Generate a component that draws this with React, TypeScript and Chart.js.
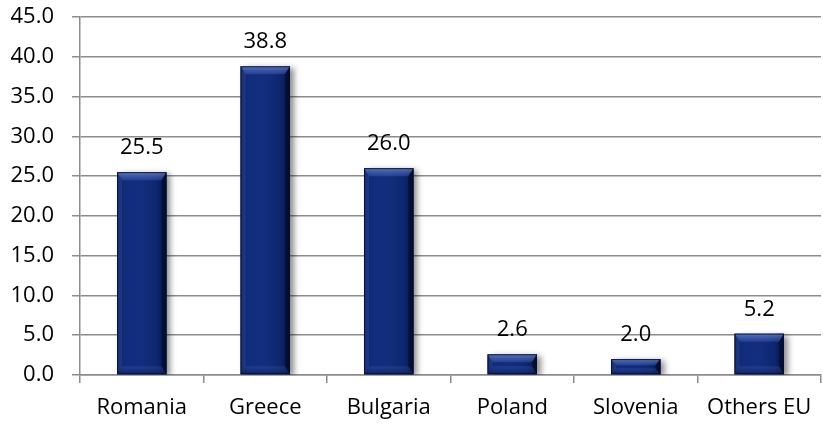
import React, { useEffect, useRef } from "react";
import { Chart, registerables } from "chart.js";

Chart.register(...registerables);

const categories = ["Romania", "Greece", "Bulgaria", "Poland", "Slovenia", "Others EU"];
const values = [25.5, 38.8, 26.0, 2.6, 2.0, 5.2];
const yMin = 0;
const yMax = 45;
const yStep = 5;

const FONT = "'Open Sans', sans-serif";
const FONT_SIZE = 22;

const bevelPlugin = {
  id: "bevelBars",
  beforeDatasetsDraw(chart: any) {
    const ctx = chart.ctx;
    ctx.save();
    ctx.shadowColor = "rgba(0,0,0,0.45)";
    ctx.shadowOffsetX = 4;
    ctx.shadowOffsetY = 2;
    ctx.shadowBlur = 6;
  },
  afterDatasetsDraw(chart: any) {
    const ctx = chart.ctx;
    ctx.restore();
    const meta = chart.getDatasetMeta(0);
    const data = chart.data.datasets[0].data as number[];
    meta.data.forEach((el: any, i: number) => {
      const { x, y, base, width } = el.getProps(["x", "y", "base", "width"], true);
      const L = x - width / 2;
      const R = x + width / 2;
      const T = Math.min(y, base);
      const B = Math.max(y, base);
      const h = B - T;
      const b = Math.min(8, h / 2.5);
      const s = Math.min(5, width / 6);
      ctx.save();
      const fg = ctx.createLinearGradient(L, 0, R, 0);
      fg.addColorStop(0, "rgba(5,18,60,0.55)");
      fg.addColorStop(0.2, "rgba(30,60,150,0.15)");
      fg.addColorStop(0.5, "rgba(40,70,160,0.12)");
      fg.addColorStop(0.8, "rgba(5,18,60,0.15)");
      fg.addColorStop(1, "rgba(0,5,30,0.7)");
      ctx.fillStyle = fg;
      ctx.fillRect(L, T, width, h);
      const tg = ctx.createLinearGradient(0, T, 0, T + b);
      tg.addColorStop(0, "rgba(140,170,235,0.6)");
      tg.addColorStop(1, "rgba(70,100,190,0.35)");
      ctx.fillStyle = tg;
      ctx.beginPath();
      ctx.moveTo(L, T);
      ctx.lineTo(R, T);
      ctx.lineTo(R - s, T + b);
      ctx.lineTo(L + s, T + b);
      ctx.closePath();
      ctx.fill();
      const bg = ctx.createLinearGradient(0, B - b, 0, B);
      bg.addColorStop(0, "rgba(60,90,170,0.3)");
      bg.addColorStop(1, "rgba(10,25,80,0.5)");
      ctx.fillStyle = bg;
      ctx.beginPath();
      ctx.moveTo(L, B);
      ctx.lineTo(R, B);
      ctx.lineTo(R - s, B - b);
      ctx.lineTo(L + s, B - b);
      ctx.closePath();
      ctx.fill();
      ctx.fillStyle = "rgba(80,110,200,0.22)";
      ctx.beginPath();
      ctx.moveTo(L, T);
      ctx.lineTo(L + s, T + b);
      ctx.lineTo(L + s, B - b);
      ctx.lineTo(L, B);
      ctx.closePath();
      ctx.fill();
      ctx.fillStyle = "rgba(0,5,25,0.45)";
      ctx.beginPath();
      ctx.moveTo(R, T);
      ctx.lineTo(R - s, T + b);
      ctx.lineTo(R - s, B - b);
      ctx.lineTo(R, B);
      ctx.closePath();
      ctx.fill();
      ctx.strokeStyle = "rgba(5,15,50,0.9)";
      ctx.lineWidth = 1;
      ctx.strokeRect(L + 0.5, T + 0.5, width - 1, h - 1);
      ctx.fillStyle = "#000";
      ctx.font = `${FONT_SIZE}px ${FONT}`;
      ctx.textAlign = "center";
      ctx.textBaseline = "alphabetic";
      ctx.fillText(data[i].toFixed(1), x, T - 18);
      ctx.restore();
    });
  },
};

export default function App() {
  const canvasRef = useRef<HTMLCanvasElement | null>(null);

  useEffect(() => {
    document.body.style.margin = "0";
    const canvas = canvasRef.current;
    if (!canvas) return;
    const chart = new Chart(canvas, {
      type: "bar",
      data: {
        labels: categories,
        datasets: [
          {
            data: values,
            backgroundColor: "#0F2A78",
            borderWidth: 0,
            categoryPercentage: 1,
            barPercentage: 0.4,
          },
        ],
      },
      options: {
        animation: false,
        responsive: false,
        maintainAspectRatio: false,
        layout: { padding: { top: 17, right: 2, left: 0, bottom: 0 } },
        plugins: {
          legend: { display: false },
          tooltip: { enabled: false },
        },
        scales: {
          x: {
            afterFit(scale: any) {
              scale.height = 49;
              scale.paddingLeft = 0;
              scale.paddingRight = 0;
            },
            grid: {
              display: true,
              drawOnChartArea: false,
              drawTicks: true,
              tickLength: 8,
              offset: true,
              color: "#8c8c8c",
              lineWidth: 1.5,
            },
            border: { display: true, color: "#8c8c8c", width: 1.5 },
            ticks: {
              color: "#000",
              font: { family: FONT, size: FONT_SIZE },
              padding: 12,
              maxRotation: 0,
              autoSkip: false,
            },
          },
          y: {
            min: yMin,
            max: yMax,
            afterFit(scale: any) {
              scale.width = 80;
              scale.paddingTop = 0;
              scale.paddingBottom = 0;
            },
            grid: {
              color: "#8c8c8c",
              lineWidth: 1.5,
              tickLength: 8,
            },
            border: { display: true, color: "#8c8c8c", width: 1.5 },
            ticks: {
              stepSize: yStep,
              color: "#000",
              font: { family: FONT, size: FONT_SIZE },
              padding: 18,
              callback: (v: any) => Number(v).toFixed(1),
            },
          },
        },
      },
      plugins: [bevelPlugin],
    });
    return () => chart.destroy();
  }, []);

  return (
    <div style={{ position: "absolute", left: 0, top: 0, width: 823, height: 424 }}>
      <canvas ref={canvasRef} width={823} height={424} style={{ width: 823, height: 424 }} />
    </div>
  );
}
